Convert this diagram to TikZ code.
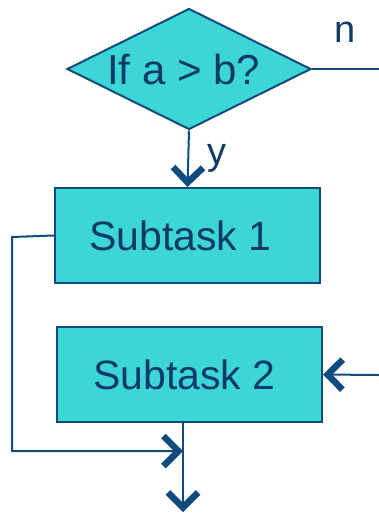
\documentclass[tikz,border=0pt]{standalone}
\usepackage{fontspec}
\setmainfont{Liberation Sans}
\usepackage{tikz}
\usetikzlibrary{shapes.geometric, arrows.meta, positioning}

\definecolor{boxfill}{RGB}{60,214,214}
\definecolor{boxline}{RGB}{16,74,126}
\definecolor{boxtext}{RGB}{15,58,104}

\tikzset{
  task/.style={draw=boxline, fill=boxfill, line width=2pt, text=boxtext,
    minimum width=265pt, minimum height=95pt, inner sep=0pt,
    font=\fontsize{41}{49}\selectfont},
  decision/.style={diamond, aspect=2, draw=boxline, fill=boxfill, line width=2pt,
    text=boxtext, minimum width=244pt, minimum height=121pt, inner sep=0pt,
    font=\fontsize{42}{50}\selectfont},
  flow/.style={draw=boxline, line width=2pt,
    -{Straight Barb[length=15pt, width=30pt, line width=6.5pt]}},
  line only/.style={draw=boxline, line width=2pt},
  answer/.style={text=boxtext, font=\fontsize{38}{46}\selectfont}
}

\begin{document}
\begin{tikzpicture}[x=1pt, y=-1pt]
        \useasboundingbox (0,0) rectangle (379,515);

        \node (Test)[decision] at (189,69) {\hspace*{-11pt}If a > b?};
        \node (Sub1)[task] at (187.5,235.5) {\hspace*{-14pt}Subtask 1};
        \node (Sub2)[task] at (189.5,374.5) {\hspace*{-10pt}Subtask 2};

        \coordinate (nEnd) at (379,69);
        \coordinate (inRight) at (379,375);
        \coordinate (loopLeft) at (12,237);
        \coordinate (join) at (183,451);
        \coordinate (exit) at (183,512);

        \draw [line only] (Test.east) -- (nEnd)
            node [answer, midway, above=22pt] {n};
        \draw [flow] (Test.south) -- (Sub1.north)
            node [answer, midway, right=15pt] {y};
        \draw [flow] (inRight) -- (Sub2.east);
        \draw [flow] (Sub1.west) -- (loopLeft) |- (join);
        \draw [flow] (Sub2.south -| join) -- (exit);
    \end{tikzpicture}
\end{document}
